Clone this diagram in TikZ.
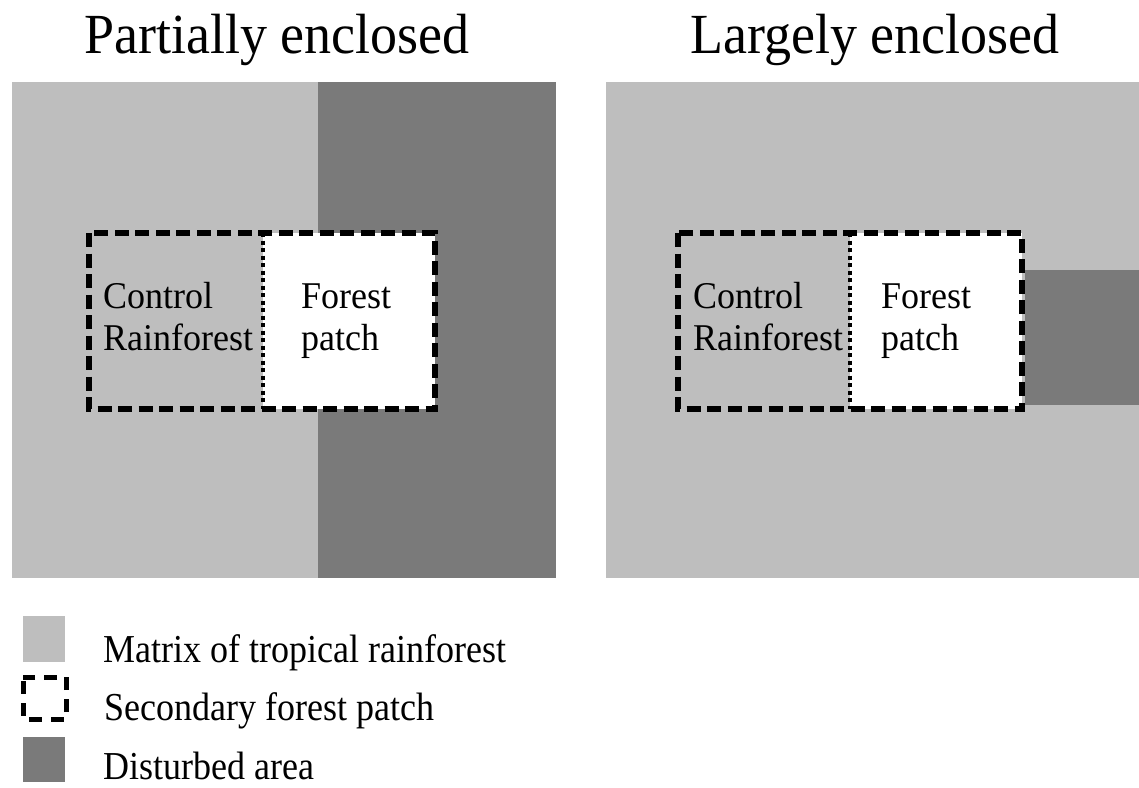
\documentclass[tikz,border=0pt]{standalone}
\usepackage{fontspec}
\setmainfont{Liberation Serif}
\definecolor{matrixgray}{HTML}{BEBEBE}
\definecolor{disturbgray}{HTML}{7A7A7A}
\newcommand{\tall}[2]{\scalebox{1}[#1]{#2}}
\begin{document}
\begin{tikzpicture}[x=1pt,y=-1pt,
  matrixfill/.style={fill=matrixgray,draw=none},
  disturbfill/.style={fill=disturbgray,draw=none},
  patchborder/.style={line width=5.5pt,dash pattern=on 14pt off 6.5pt,draw=black},
  divider/.style={line width=4.5pt,dash pattern=on 4pt off 3.5pt,draw=black},
  title/.style={font=\fontsize{54}{60}\selectfont,anchor=base,inner sep=0pt},
  inner/.style={font=\fontsize{36}{42}\selectfont,anchor=base west,inner sep=0pt},
  legend/.style={font=\fontsize{36}{40}\selectfont,anchor=base west,inner sep=0pt}]
\useasboundingbox (0,0) rectangle (1139,787);

% titles
\node[title] (t1) at (277,53) {\tall{1.05}{Partially enclosed}};
\node[title] (t2) at (875,53) {\tall{1.05}{Largely enclosed}};

% left panel: partially enclosed
\fill[matrixfill] (12,82) rectangle (318,578);
\fill[disturbfill] (318,82) rectangle (556,578);
\fill[white] (263,233) rectangle (435,409);
\draw[patchborder] (89,233) rectangle (435,409);
\draw[divider] (263,233) -- (263,409);
\node[inner] (c1a) at (103,308) {\tall{1.05}{Control}};
\node[inner] (c1b) at (103,350) {\tall{1.05}{Rainforest}};
\node[inner] (f1a) at (301,308) {\tall{1.05}{Forest}};
\node[inner] (f1b) at (301,350) {\tall{1.05}{patch}};

% right panel: largely enclosed
\fill[matrixfill] (606,82) rectangle (1139,578);
\fill[disturbfill] (1025,270) rectangle (1139,405);
\fill[white] (850,233) rectangle (1022,409);
\draw[patchborder] (678,233) rectangle (1022,409);
\draw[divider] (850,233) -- (850,409);
\node[inner] (c2a) at (693,308) {\tall{1.05}{Control}};
\node[inner] (c2b) at (693,350) {\tall{1.05}{Rainforest}};
\node[inner] (f2a) at (881,308) {\tall{1.05}{Forest}};
\node[inner] (f2b) at (881,350) {\tall{1.05}{patch}};

% legend
\fill[matrixfill] (23,616) rectangle (65,662);
\draw[patchborder,line width=5pt,dash pattern=on 13pt off 9pt,dash phase=-4pt] (23,677) rectangle (66,719);
\fill[disturbfill] (23,737) rectangle (65,782);
\node[legend] (l1) at (103,662) {\tall{1.1}{Matrix of tropical rainforest}};
\node[legend] (l2) at (104,720) {\tall{1.1}{Secondary forest patch}};
\node[legend] (l3) at (103,779) {\tall{1.1}{Disturbed area}};
\end{tikzpicture}
\end{document}
